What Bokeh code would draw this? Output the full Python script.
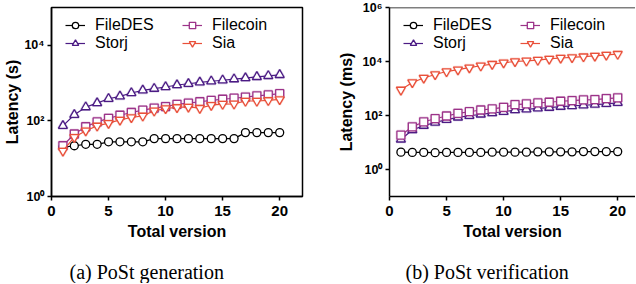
from bokeh.plotting import figure
from bokeh.layouts import row
from bokeh.models import Legend, LegendItem, FixedTicker, Range1d, Span, Title
from bokeh.embed import file_html
from bokeh.resources import INLINE

# ---------------- data ----------------
versions = [1, 2, 3, 4, 5, 6, 7, 8, 9, 10, 11, 12, 13, 14, 15, 16, 17, 18, 19, 20]

# (a) PoSt generation latency (s)
gen_filedes = [20, 22, 24, 24, 28, 28, 28, 28, 34, 34, 34, 34, 34, 34, 34, 34, 49, 49, 49, 49]
gen_storj = [74, 145, 231, 296, 386, 446, 548, 644, 713, 790, 890, 960, 1050, 1120, 1190, 1270, 1360, 1460, 1550, 1650]
gen_filecoin = [22, 45, 70, 94, 117, 141, 167, 192, 218, 240, 275, 295, 321, 348, 374, 398, 427, 460, 488, 525]
gen_sia = [16, 37, 55, 74, 87, 106, 123, 136, 185, 213, 228, 235, 218, 260, 279, 283, 336, 336, 350, 370]

# (b) PoSt verification latency (ms)
ver_filedes = [4.4, 4.3, 4.3, 4.2, 4.3, 4.3, 4.3, 4.3, 4.4, 4.4, 4.4, 4.4, 4.5, 4.5, 4.5, 4.5, 4.6, 4.6, 4.6, 4.6]
ver_storj = [13, 29, 42, 55, 70, 85, 98, 110, 124, 138, 160, 170, 185, 195, 213, 226, 240, 253, 270, 295]
ver_filecoin = [18.7, 38, 58.5, 76, 96, 120, 138, 160, 175, 200, 253, 270, 293, 310, 337, 357, 380, 390, 425, 450]
ver_sia = [890, 1670, 2450, 3300, 4250, 5000, 5900, 6950, 8000, 9000, 10000, 10600, 11300, 12500, 13500, 14200, 15200, 16100, 17500, 18800]

series_names = ["FileDES", "Storj", "Filecoin", "Sia"]
series_colors = ["#000000", "#4b1b84", "#9c3389", "#e9503a"]
series_markers = ["circle", "triangle", "square", "inverted_triangle"]
series_sizes = [8, 9, 8, 9]

x_ticks = [0, 5, 10, 15, 20]
gen_y_ticks = [1, 100, 10000]
gen_y_labels = ["10\u2070", "10\u00b2", "10\u2074"]
ver_y_ticks = [1, 100, 10000, 1000000]
ver_y_labels = ["10\u2070", "10\u00b2", "10\u2074", "10\u2076"]

SANS = "Liberation Sans"
SERIF = "Liberation Serif"

FIG_H = 283
TOP = 7
BOTTOM = 87
FRAME_H = FIG_H - TOP - BOTTOM


def make_plot(ys, y_range, y_ticks, y_labels, y_title, caption, caption_offset,
              width, min_left, min_right, y_label_standoff, x_end, full_box):
    p = figure(width=width, height=FIG_H, y_axis_type="log",
               x_range=Range1d(0, x_end), y_range=Range1d(*y_range),
               output_backend="svg", toolbar_location=None,
               min_border_left=min_left, min_border_right=min_right,
               min_border_top=TOP, min_border_bottom=BOTTOM)
    p.grid.visible = False
    p.background_fill_color = "white"
    p.border_fill_color = "white"
    if full_box:
        p.outline_line_color = "black"
        p.outline_line_width = 1.5
        p.outline_line_alpha = 1
    else:
        p.outline_line_color = None
        p.add_layout(Span(location=y_range[1], dimension="width",
                          line_color="black", line_width=1.5))

    items = []
    for name, vals, col, mk, sz in zip(series_names, ys, series_colors,
                                         series_markers, series_sizes):
        lr = p.line(versions, vals, line_color=col, line_width=1.2)
        if col != "#000000":
            p.scatter(versions, vals, marker=mk, size=sz, fill_color=None,
                      line_color=col, line_width=2.6, line_alpha=0.22)
        sr = p.scatter(versions, vals, marker=mk, size=sz, fill_color="white",
                       line_color=col, line_width=1.3)
        items.append(LegendItem(label=name, renderers=[lr, sr]))

    legend = Legend(items=items, orientation="vertical", ncols=2,
                    location=(14, FRAME_H - 13 - 32),
                    glyph_width=20, glyph_height=16, label_height=16,
                    label_width=87, label_standoff=10, spacing=0,
                    padding=0, margin=0, border_line_color=None,
                    background_fill_alpha=0,
                    label_text_font=SANS, label_text_font_size="16px",
                    label_text_line_height=0.9,
                    label_text_color="black")
    p.add_layout(legend)

    # axes
    p.xaxis.ticker = FixedTicker(ticks=x_ticks, minor_ticks=[])
    p.yaxis.ticker = FixedTicker(ticks=y_ticks, minor_ticks=[])
    p.yaxis.major_label_overrides = {float(t): lab for t, lab in zip(y_ticks, y_labels)}
    for ax in (p.xaxis[0], p.yaxis[0]):
        ax.axis_line_width = 1.5
        ax.axis_line_color = "black"
        ax.major_tick_line_color = "black"
        ax.major_tick_line_width = 1.5
        ax.major_tick_in = 0
        ax.major_tick_out = 4
        ax.minor_tick_line_color = None
        ax.major_label_text_font = SANS
        ax.major_label_text_font_style = "bold"
        ax.major_label_text_color = "black"
        ax.axis_label_text_font = SANS
        ax.axis_label_text_font_style = "bold"
        ax.axis_label_text_font_size = "16px"
        ax.axis_label_text_color = "black"
    p.xaxis.major_label_text_font_size = "15px"
    p.xaxis.major_label_standoff = 5
    p.xaxis.axis_label = "Total version"
    p.xaxis.axis_label_standoff = 4
    p.yaxis.major_label_text_font_size = "12.5px"
    p.yaxis.major_label_standoff = 3
    p.yaxis.axis_label = y_title
    p.yaxis.axis_label_standoff = y_label_standoff

    cap = Title(text=caption, align="left", offset=caption_offset,
                text_font=SERIF, text_font_size="20px",
                text_font_style="normal", text_color="black", standoff=0)
    try:
        cap.padding = dict(left=0, right=0, top=16, bottom=0)
    except Exception:
        cap.standoff = 12
    p.add_layout(cap, "below")
    return p


p1 = make_plot([gen_filedes, gen_storj, gen_filecoin, gen_sia],
               (1, 1e5), gen_y_ticks, gen_y_labels, "Latency (s)",
               "(a) PoSt generation", 18, 318, 51, 16, 0, 22, True)
p2 = make_plot([ver_filedes, ver_storj, ver_filecoin, ver_sia],
               (0.1, 1e6), ver_y_ticks, ver_y_labels, "Latency (ms)",
               "(b) PoSt verification", 16, 317, 71, 0, 4, 21.56, False)

layout = row(p1, p2)
open("out.html", "w").write(file_html(layout, INLINE))
